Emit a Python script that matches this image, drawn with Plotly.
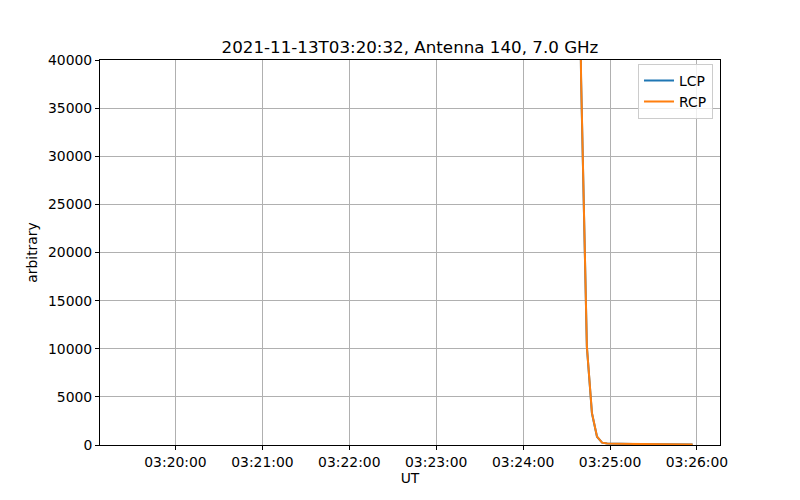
import plotly.graph_objects as go

day = "2021-11-13 "
times = ["03:19:27", "03:20:30", "03:21:30", "03:22:30", "03:23:30", "03:24:20",
         "03:24:36", "03:24:40", "03:24:44", "03:24:47.5", "03:24:51", "03:24:54.5",
         "03:24:58", "03:25:05", "03:25:15", "03:25:25", "03:25:35", "03:25:45", "03:25:57"]
lcp = [260000, 240000, 210000, 180000, 150000, 120000,
       90000, 38000, 10200, 3300, 860, 240,
       150, 120, 100, 80, 70, 55, 40]
rcp = [262000, 242000, 212000, 182000, 152000, 121000,
       91000, 38200, 10250, 3330, 870, 245,
       155, 125, 102, 82, 72, 57, 42]

x = [day + t for t in times]
title = "2021-11-13T03:20:32, Antenna 140, 7.0 GHz"

font = "DejaVu Sans"
fig = go.Figure()
fig.add_trace(go.Scatter(x=x, y=lcp, mode="lines", name="LCP",
                         line=dict(color="#1f77b4", width=2)))
fig.add_trace(go.Scatter(x=x, y=rcp, mode="lines", name="RCP",
                         line=dict(color="#ff7f0e", width=2)))

axis_common = dict(showline=True, linecolor="black", linewidth=1, mirror=True,
                   showgrid=True, gridcolor="#b0b0b0", gridwidth=0.8,
                   ticks="outside", ticklen=4, tickcolor="black", tickwidth=1,
                   zeroline=False, tickfont=dict(family=font, size=13.9, color="black"))

fig.update_layout(
    width=800, height=500,
    paper_bgcolor="white", plot_bgcolor="white",
    margin=dict(l=100, r=80, t=60, b=55),
    title=dict(text=title, xref="paper", x=0.5, xanchor="center", y=1 - 47 / 500, yanchor="middle",
               font=dict(family=font, size=16.7, color="black")),
    xaxis=dict(type="date", range=[day + "03:19:07.9", day + "03:26:15.9"],
               tick0=day + "03:20:00", dtick=60000, tickformat="%H:%M:%S",
               title=dict(text="UT", standoff=4, font=dict(family=font, size=13.9, color="black")),
               **axis_common),
    yaxis=dict(range=[0, 40000], tick0=0, dtick=5000, tickformat="d",
               title=dict(text="arbitrary", standoff=7, font=dict(family=font, size=13.9, color="black")),
               **axis_common),
    legend=dict(x=0.9887, y=0.99, xanchor="right", yanchor="top",
                bgcolor="rgba(255,255,255,0.8)", bordercolor="#cccccc", borderwidth=1,
                font=dict(family=font, size=13.9, color="black"),
                tracegroupgap=0, itemwidth=30),
    showlegend=True,
)

fig.write_html("out.html", config={"displayModeBar": False},
               post_script="document.body.style.margin='0';")
